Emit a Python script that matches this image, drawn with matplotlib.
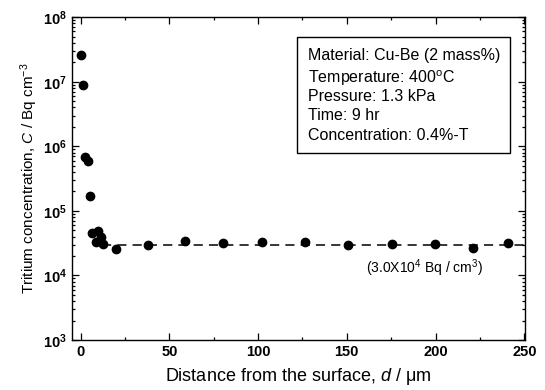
import math
import matplotlib
matplotlib.use("Agg")
import matplotlib.pyplot as plt
from matplotlib.patches import Rectangle
from matplotlib.ticker import LogLocator, MultipleLocator, NullFormatter, FuncFormatter

plt.rcParams['font.family'] = ['Liberation Sans', 'DejaVu Sans']
plt.rcParams['mathtext.fontset'] = 'custom'
plt.rcParams['mathtext.rm'] = 'Liberation Sans'
plt.rcParams['mathtext.it'] = 'Liberation Sans:italic'
plt.rcParams['mathtext.bf'] = 'Liberation Sans:bold'

# Profondeur (um) et concentration en tritium (Bq/cm3)
distance = [0.5, 1.2, 2.4, 3.9, 5.2, 6.5, 8.4, 9.9, 11.4, 12.7, 20.2,
            38, 58.6, 80.1, 102.2, 126.6, 150.9, 175.3, 199.6, 221, 240.8]
concentration = [2.6e7, 8.9e6, 6.8e5, 6.0e5, 1.7e5, 4.5e4, 3.3e4, 4.8e4, 3.9e4, 3.1e4, 2.6e4,
                 2.95e4, 3.4e4, 3.2e4, 3.3e4, 3.3e4, 2.95e4, 3.1e4, 3.1e4, 2.7e4, 3.15e4]

# Niveau de fond
fond_x = [12, 250]
fond_y = [3.0e4, 3.0e4]

conditions = ["Material: Cu-Be (2 mass%)",
              "Temperature: 400$^{\\mathregular{o}}$C",
              "Pressure: 1.3 kPa",
              "Time: 9 hr",
              "Concentration: 0.4%-T"]

fig = plt.figure(figsize=(5.45, 3.9), dpi=100)
ax = fig.add_axes([0.1316, 0.128, 0.832, 0.828])

ax.plot(fond_x, fond_y, color='black', linestyle=(0, (6, 4)), linewidth=1.1, zorder=2)
ax.plot(distance, concentration, 'o', color='black', markersize=6, zorder=3)

ax.set_yscale('log')
ax.set_xlim(-5, 250.5)
ax.set_ylim(1e3, 1e8)

ax.xaxis.set_major_locator(MultipleLocator(50))
ax.xaxis.set_minor_locator(MultipleLocator(25))
ax.yaxis.set_major_locator(LogLocator(base=10, numticks=10))
ax.yaxis.set_minor_locator(LogLocator(base=10, subs=range(2, 10), numticks=20))
ax.yaxis.set_minor_formatter(NullFormatter())
ax.yaxis.set_major_formatter(FuncFormatter(
    lambda v, p: "$\\mathbf{10^{%d}}$" % round(math.log10(v))))

ax.tick_params(which='both', direction='in', top=True, right=True, width=0.9)
ax.tick_params(which='major', length=5, labelsize=10.5)
ax.tick_params(which='minor', length=2.5)
for lab in ax.get_xticklabels() + ax.get_yticklabels():
    lab.set_fontweight('bold')
for s in ax.spines.values():
    s.set_linewidth(1.0)

ax.set_xlabel("Distance from the surface, $\\it{d}$ / μm", fontsize=13, labelpad=5)
ax.set_ylabel("Tritium concentration, $\\it{C}$ / Bq cm$^{\\mathregular{-3}}$", fontsize=11, labelpad=2)

ax.text(0.65, 0.222, "(3.0X10$^{\\mathregular{4}}$ Bq / cm$^{\\mathregular{3}}$)",
        transform=ax.transAxes, fontsize=10, va='center')

# Encadré des conditions
ax.add_patch(Rectangle((0.496, 0.578), 0.471, 0.361, transform=ax.transAxes,
                       facecolor='white', edgecolor='black', linewidth=1.0, zorder=4))
ypos = [0.882, 0.810, 0.753, 0.694, 0.635]
for t, y in zip(conditions, ypos):
    ax.text(0.521, y, t, transform=ax.transAxes, fontsize=11.5, va='center', zorder=5)

fig.savefig("out.png", dpi=100)
